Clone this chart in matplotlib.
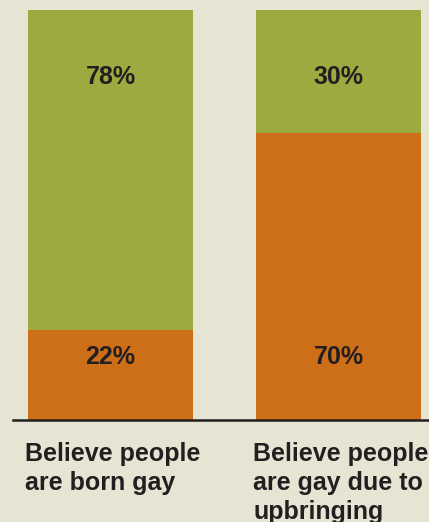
import numpy as np
import matplotlib.pyplot as plt
from matplotlib.transforms import blended_transform_factory

categorias = ['Believe people\nare born gay', 'Believe people\nare gay due to\nupbringing']
naranja = [22, 70]
verde = [78, 30]

c_fondo = '#e6e4d3'
c_verde = '#9eaa40'
c_naranja = '#cd6e18'
c_texto = '#231f20'

plt.rcParams['font.family'] = ['Liberation Sans', 'DejaVu Sans']

fig = plt.figure(figsize=(4.29, 5.22), dpi=100, facecolor=c_fondo)
ax = fig.add_axes([13 / 429, 102 / 522, 416 / 429, 410 / 522])
ax.set_facecolor(c_fondo)

x = np.arange(len(categorias))
ancho = 0.7237
ax.bar(x, naranja, width=ancho, color=c_naranja, linewidth=0)
ax.bar(x, verde, width=ancho, bottom=naranja, color=c_verde, linewidth=0)

# porcentajes: uno arriba en el verde, otro abajo en el naranja
for i in range(len(x)):
    ax.text(x[i], 100 - 16.3, '%d%%' % verde[i], ha='center', va='center',
            fontsize=18, fontweight='bold', color=c_texto)
    ax.text(x[i], 15.4, '%d%%' % naranja[i], ha='center', va='center',
            fontsize=18, fontweight='bold', color=c_texto)

trans = blended_transform_factory(ax.transData, ax.transAxes)
for i in range(len(x)):
    ax.text(x[i] - ancho / 2 - 0.012, -0.054, categorias[i], transform=trans,
            ha='left', va='top', fontsize=18, fontweight='bold',
            color=c_texto, linespacing=1.27, clip_on=False)

ax.set_xlim(-0.4276, 1.3969)
ax.set_ylim(0, 100)
for s in ['top', 'left', 'right']:
    ax.spines[s].set_visible(False)
ax.spines['bottom'].set_color(c_texto)
ax.spines['bottom'].set_linewidth(1.8)
ax.set_xticks([])
ax.set_yticks([])

fig.savefig('out.png', dpi=100, facecolor=c_fondo)
